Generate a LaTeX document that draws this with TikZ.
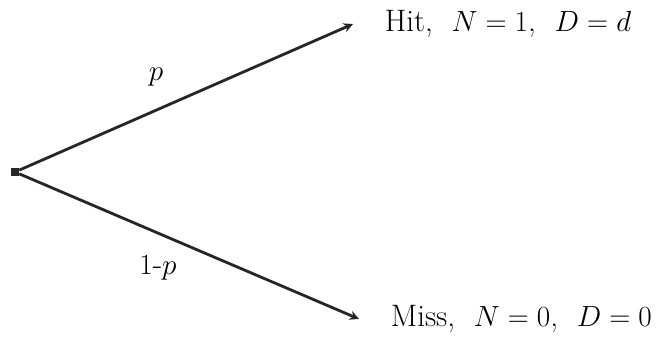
\documentclass[tikz,border=0pt]{standalone}
\usepackage{amsmath}
\usetikzlibrary{arrows.meta, positioning}

\begin{document}
\begin{tikzpicture}[>={Stealth[length=8pt,width=8pt]},
 every node/.style={font=\fontsize{26.5}{31}\selectfont},
 branch/.style={->,line width=2.4pt,black!85},
 root/.style={rectangle,fill=black!85,inner sep=0pt,minimum size=.24cm},
 outcome/.style={anchor=west,inner xsep=.95cm,inner ysep=0pt}]
 \useasboundingbox (0,0) rectangle (20.1,10.14);
 \node[root] (r) at (.45,4.98) {};
 \node[outcome] (hit) at (10.59,9.42) {Hit,\ \ $N=1$,\ \ $D=d$};
 \node[outcome] (miss) at (10.77,.57) {Miss,\ \ $N=0$,\ \ $D=0$};
 \draw[branch] (r) -- (hit.west);
 \draw[branch] (r) -- (miss.west);
 \node (pa) at (4.68,7.83) {$p$};
 \node (pb) at (4.74,2.10) {$1$-$p$};
\end{tikzpicture}
\end{document}
